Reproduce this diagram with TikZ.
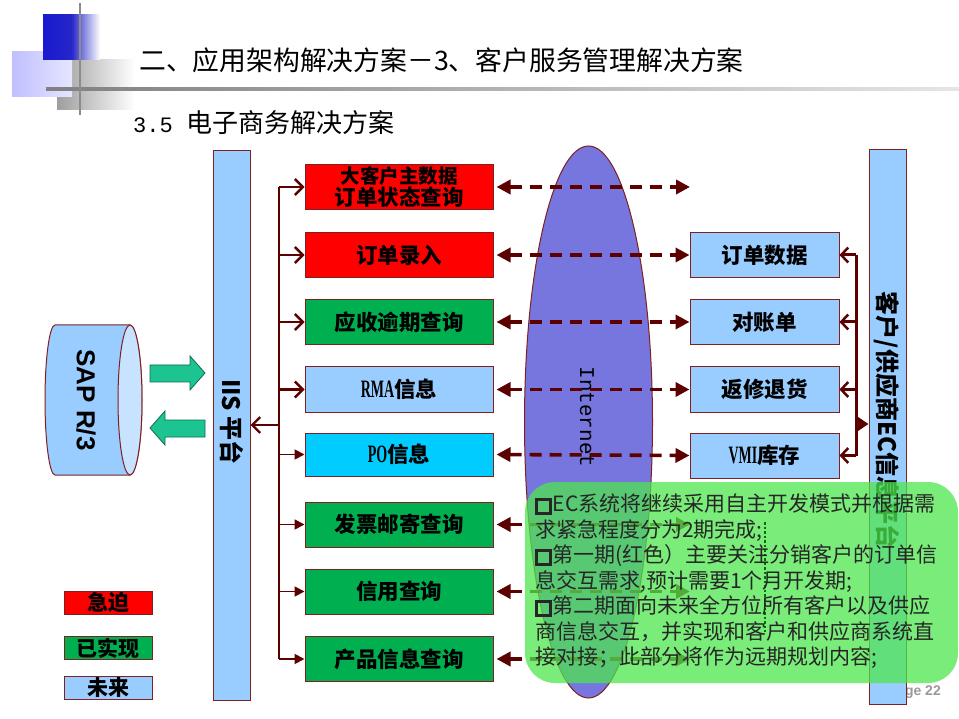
\documentclass[tikz,border=0pt]{standalone}
\usepackage{fontspec}
\setmainfont{Liberation Sans}
\newfontfamily\cjk{Noto Sans CJK SC}
\newfontfamily\lmono{Liberation Mono}
\newfontfamily\cond{Liberation Serif}[FakeStretch=0.56]
\usetikzlibrary{arrows.meta,shapes.geometric}
\definecolor{dred}{HTML}{5C0000}
\definecolor{bordr}{HTML}{7F1F1F}
\definecolor{lblue}{HTML}{99CCFF}
\definecolor{fgreen}{HTML}{00B050}
\definecolor{fred}{HTML}{FF0000}
\definecolor{fcyan}{HTML}{00CCFF}
\definecolor{inet}{HTML}{7676DE}
\definecolor{tealarrow}{HTML}{1CC492}
\definecolor{notegreen}{HTML}{4EE64E}
\newcommand\qbox{{\setlength{\fboxsep}{0pt}\setlength{\fboxrule}{2.8pt}\fbox{\rule{0pt}{11pt}\rule{11pt}{0pt}}}\hspace{1pt}}
\newcommand\latb[1]{{\cond\bfseries\fontsize{25}{25}\selectfont #1}}
\tikzset{
  box/.style={draw=bordr, line width=1pt, minimum width=188pt, minimum height=45pt, inner sep=0pt, align=center,
    font=\cjk\bfseries\fontsize{21.5}{22}\selectfont},
  rbox/.style={box, minimum width=149pt, fill=lblue},
  bar/.style={draw=bordr, line width=1pt, fill=lblue, minimum width=37pt, inner sep=0pt},
  legend/.style={draw=bordr, line width=1pt, minimum width=88pt, minimum height=23pt, inner sep=0pt,
    font=\cjk\bfseries\fontsize{21}{21}\selectfont},
  tree/.style={draw=dred, line width=2.6pt},
  treearrow/.style={tree, -{Straight Barb[length=8pt,width=16pt,line width=2.4pt]}},
  treearrowb/.style={draw=dred, line width=1.8pt, -{Triangle[length=10pt,width=10pt]}},
  dasharrow/.style={draw=dred, line width=3.6pt, dash pattern=on 12pt off 8pt,
    {Triangle[length=14pt,width=14pt]}-{Triangle[length=14pt,width=14pt]}, shorten <=3pt},
  rarrow/.style={draw=dred, line width=3pt, -{Straight Barb[length=7pt,width=15pt,line width=2.5pt]}},
  rarrowin/.style={draw=dred, line width=3pt, -{Triangle[length=11pt,width=14pt]}},
  blockarrow/.style={fill=tealarrow, draw=tealarrow!55!black, line width=0.8pt},
}
\begin{document}
\begin{tikzpicture}[x=1pt,y=-1pt]
\useasboundingbox (0,0) rectangle (959,719);
\fill[white] (0,0) rectangle (959,719);
% header decoration
\shade[left color=black!38, right color=white] (57,60) rectangle (135,110);
\shade[left color=blue!25!white, right color=blue!10!white] (12,52) rectangle (72,97);
\shade[left color=blue!80!black!90, right color=white, middle color=blue!75!black!85] (43,15) rectangle (100,60);
\shade[left color=black!50, right color=black!10] (46,87.5) rectangle (959,90.5);
\draw[black!45, line width=2.5pt] (80,3) -- (80,115);
\node[anchor=west, font=\cjk\fontsize{26.8}{27}\selectfont, inner sep=0pt] (title) at (139,60) {二、应用架构解决方案－3、客户服务管理解决方案};
\node[anchor=west, font=\cjk\fontsize{26}{27}\selectfont, inner sep=0pt] (subtitle) at (133,123) {{\lmono\fontsize{22}{22}\selectfont 3.5 }电子商务解决方案};

% SAP cylinder
\filldraw[fill=lblue, draw=bordr, line width=1pt] (55,325) -- (130,325)
  arc[start angle=-90, end angle=90, x radius=12, y radius=75] -- (55,475)
  arc[start angle=90, end angle=270, x radius=10, y radius=75] -- cycle;
\filldraw[fill=lblue!55!white, draw=bordr, line width=1pt] (130,400) ellipse[x radius=12, y radius=75];
\node[rotate=-90, font=\bfseries\fontsize{26}{26}\selectfont] (sap) at (86,400) {SAP R/3};
% block arrows
\filldraw[blockarrow] (150,365) -- (190,365) -- (190,356) -- (205,373) -- (190,390) -- (190,382) -- (150,382) -- cycle;
\filldraw[blockarrow] (205,420) -- (165,420) -- (165,411) -- (150,428) -- (165,445) -- (165,437) -- (205,437) -- cycle;

% bars
\node[bar, minimum height=549pt] (iis) at (231.5,425.5) {};
\node[rotate=-90, font=\cjk\bfseries\fontsize{24}{24}\selectfont] (iistext) at (232,422) {IIS 平台};
\node[anchor=east, text=black!40, font=\bfseries\fontsize{14}{14}\selectfont, inner sep=0pt] (page) at (941,692) {Page 22};
\node[bar, minimum height=554pt] (ec) at (887.5,427) {};
\node[rotate=-90, font=\cjk\bfseries\fontsize{24}{24}\selectfont] (ectext) at (887,420) {客户/供应商EC信息平台};

% internet
\node[ellipse, draw=bordr, line width=1pt, fill=inet, minimum width=128pt, minimum height=552pt, inner sep=0pt] (inet) at (588.5,422) {};
\node[rotate=-90, font=\lmono\fontsize{21}{21}\selectfont] (inettext) at (587,417) {Internet};

% middle boxes
\node[box, fill=fred] (m1) at (399,187) {\fontsize{19.5}{20}\selectfont 大客户主数据\\订单状态查询};
\node[box, fill=fred] (m2) at (399,255) {订单录入};
\node[box, fill=fgreen] (m3) at (399,322) {应收逾期查询};
\node[box, fill=lblue] (m4) at (399,389.5) {\latb{RMA}信息};
\node[box, fill=fcyan, minimum height=43pt] (m5) at (399,454.5) {\latb{PO}信息};
\node[box, fill=fgreen] (m6) at (399,524.5) {发票邮寄查询};
\node[box, fill=fgreen] (m7) at (399,591.5) {信用查询};
\node[box, fill=fgreen] (m8) at (399,659) {产品信息查询};

% right boxes
\node[rbox] (r2) at (764.5,255) {订单数据};
\node[rbox] (r3) at (764.5,322) {对账单};
\node[rbox] (r4) at (764.5,389.5) {返修退货};
\node[rbox] (r5) at (764.5,455.5) {\latb{VMI}库存};

% legend
\node[legend, fill=fred] (lg1) at (108,602.5) {急迫};
\node[legend, fill=fgreen] (lg2) at (108,648) {已实现};
\node[legend, fill=lblue] (lg3) at (108,688) {未来};

% left tree
\coordinate (tt) at (279,187);
\coordinate (tb) at (279,659);
\coordinate (tin) at (279,425);
\draw[tree] (tt) -- (tb);
\draw[treearrow] (tin) -- (tin -| iis.east);
\foreach \m in {m1,m2,m3,m4} \draw[treearrow] (\m.west -| tt) -- (\m.west);
\foreach \m in {m5,m6,m7,m8} \draw[treearrowb] (\m.west -| tt) -- (\m.west);

% dashed arrows
\coordinate (e1) at (690,187);
\coordinate (e6) at (690,524.5);
\coordinate (e7) at (690,591.5);
\coordinate (e8) at (690,659);
\draw[dasharrow] (m1.east) -- (e1);
\draw[dasharrow] (m2.east) -- (r2.west);
\draw[dasharrow] (m3.east) -- (r3.west);
\draw[dasharrow] (m4.east) -- (r4.west);
\draw[dasharrow] (m5.east) -- (r5.west);
\draw[dasharrow] (m6.east) -- (e6);
\draw[dasharrow] (m7.east) -- (e7);
\draw[dasharrow] (m8.east) -- (e8);

% right bracket
\coordinate (rt) at (856,255);
\coordinate (rb) at (856,455.5);
\coordinate (rin) at (856,424);
\draw[draw=dred, line width=3pt] (rt) -- (rb);
\foreach \r in {r2,r3,r4,r5} \draw[rarrow] (\r.east -| rt) -- (\r.east);
\draw[rarrowin] (rin) -- (rin -| ec.west);

% note
\fill[notegreen, fill opacity=0.75, rounded corners=30pt] (525,482) rectangle (958,683);
\draw[green!45!black, line width=2.5pt, dotted] (765,522) -- (765,632);
\node[anchor=north west, inner sep=0pt, align=left, text=black!85,
  font=\cjk\fontsize{21}{25.5}\selectfont] (notetext) at (535,494)
  {\qbox EC系统将继续采用自主开发模式并根据需\\
   求紧急程度分为2期完成;\\
   \qbox 第一期(红色）主要关注分销客户的订单信\\
   息交互需求,预计需要1个月开发期;\\
   \qbox 第二期面向未来全方位所有客户以及供应\\
   商信息交互，并实现和客户和供应商系统直\\
   接对接；此部分将作为远期规划内容;};
\end{tikzpicture}
\end{document}
